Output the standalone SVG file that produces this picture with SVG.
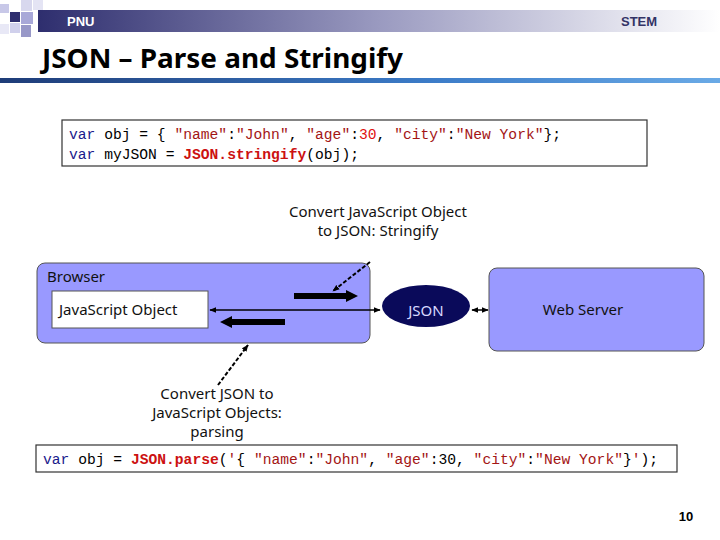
<svg xmlns="http://www.w3.org/2000/svg" width="720" height="540" viewBox="0 0 720 540">
<defs>
<linearGradient id="hdr" x1="0" y1="0" x2="1" y2="0">
<stop offset="0" stop-color="#2e2e6e"/>
<stop offset="0.5" stop-color="#9a9ac0"/>
<stop offset="1" stop-color="#ffffff"/>
</linearGradient>
<linearGradient id="rule" x1="0" y1="0" x2="1" y2="0">
<stop offset="0" stop-color="#1e3c78"/>
<stop offset="0.6" stop-color="#3c7cc8"/>
<stop offset="1" stop-color="#6aaae6"/>
</linearGradient>
<marker id="ah" viewBox="0 0 10 10" refX="9" refY="5" markerWidth="7" markerHeight="7" orient="auto-start-reverse" markerUnits="userSpaceOnUse">
<path d="M0,1 L10,5 L0,9 z" fill="#000"/>
</marker>
<marker id="thick" viewBox="0 0 10 10" refX="5" refY="5" markerWidth="12" markerHeight="12" orient="auto" markerUnits="userSpaceOnUse">
<path d="M0,0 L10,5 L0,10 z" fill="#000"/>
</marker>
</defs>
<style>
.lbl{font-family:"Noto Sans","DejaVu Sans",sans-serif;font-size:15px;fill:#111}
.code{font-family:"Liberation Mono","DejaVu Sans Mono",monospace;font-size:14.65px;fill:#000}
.kw{fill:#1a1a8c}
.str{fill:#a31515}
.fn{fill:#cc1111;font-weight:bold}
.num{fill:#e01010}
.box{fill:#9999ff;stroke:#555;stroke-width:1}
.codebox{fill:#fff;stroke:#333;stroke-width:1.2}
.lead{stroke:#000;stroke-width:2;stroke-dasharray:4,2;fill:none}
.thin{stroke:#000;stroke-width:1.5;fill:none}
.fat{stroke:#000;stroke-width:6;fill:none}
</style>
<rect width="720" height="540" fill="#fff"/>
<g id="header">
<rect x="38" y="10" width="682" height="22" fill="url(#hdr)"/>
<rect x="0" y="4" width="9" height="9" fill="#c8c8e8"/>
<rect x="10" y="12" width="10" height="10" fill="#2e2e6e"/>
<rect x="21" y="0" width="11" height="11" fill="#d8d8ee"/>
<rect x="21" y="12" width="12" height="12" fill="#a8a8d8"/>
<rect x="33" y="0" width="10" height="10" fill="#e4e4f4"/>
<rect x="10" y="23" width="10" height="10" fill="#d0d0ec"/>
<rect x="21" y="25" width="10" height="12" fill="#9898c8"/>
<rect x="0" y="24" width="9" height="10" fill="#e8e8f6"/>
<text x="67" y="26" font-family="Liberation Sans,Arial,sans-serif" font-size="13" font-weight="bold" fill="#fff">PNU</text>
<text x="621" y="26" font-family="Liberation Sans,Arial,sans-serif" font-size="13" font-weight="bold" fill="#333366">STEM</text>
</g>
<g id="title">
<text x="42" y="68" font-family="Noto Sans,Liberation Sans,Arial,sans-serif" font-size="27" font-weight="bold" fill="#000" textLength="361" lengthAdjust="spacingAndGlyphs">JSON – Parse and Stringify</text>
<rect x="0" y="78" width="720" height="5" fill="url(#rule)"/>
</g>
<g id="code-stringify">
<rect class="codebox" x="62" y="120" width="585" height="46"/>
<text class="code" x="69" y="139" xml:space="preserve"><tspan class="kw">var</tspan> obj = { <tspan class="str">"name"</tspan>:<tspan class="str">"John"</tspan>, <tspan class="str">"age"</tspan>:<tspan class="num">30</tspan>, <tspan class="str">"city"</tspan>:<tspan class="str">"New York"</tspan>};</text>
<text class="code" x="69" y="159" xml:space="preserve"><tspan class="kw">var</tspan> myJSON = <tspan class="fn">JSON.stringify</tspan>(obj);</text>
</g>
<g id="label-stringify">
<text class="lbl" x="378" y="217" text-anchor="middle">Convert JavaScript Object</text>
<text class="lbl" x="378" y="236" text-anchor="middle">to JSON: Stringify</text>
</g>
<g id="browser">
<rect class="box" x="37" y="263" width="333" height="80" rx="8"/>
<text class="lbl" x="47" y="282">Browser</text>
</g>
<g id="js-object">
<rect x="52" y="291" width="156" height="37" fill="#fff" stroke="#555" stroke-width="1"/>
<text class="lbl" x="59" y="315">JavaScript Object</text>
</g>
<g id="json">
<ellipse cx="426" cy="306" rx="44" ry="21" fill="#0a0a5a"/>
<text class="lbl" x="426" y="316" text-anchor="middle" style="fill:#d8d8ff">JSON</text>
</g>
<g id="web-server">
<rect class="box" x="489" y="268" width="215" height="83" rx="8"/>
<text class="lbl" x="583" y="315" text-anchor="middle">Web Server</text>
</g>
<g id="connectors">
<line class="thin" x1="210" y1="310" x2="380" y2="310" marker-start="url(#ah)" marker-end="url(#ah)"/>
<line class="thin" x1="472" y1="310" x2="488" y2="310" marker-start="url(#ah)" marker-end="url(#ah)"/>
<line class="fat" x1="294" y1="296" x2="352" y2="296" marker-end="url(#thick)"/>
<line class="fat" x1="285" y1="322" x2="226" y2="322" marker-end="url(#thick)"/>
<line class="lead" x1="370" y1="262" x2="333" y2="291" marker-end="url(#ah)"/>
<line class="lead" x1="218" y1="385" x2="248" y2="345" marker-end="url(#ah)"/>
</g>
<g id="label-parse">
<text class="lbl" x="217" y="399" text-anchor="middle">Convert JSON to</text>
<text class="lbl" x="217" y="418" text-anchor="middle">JavaScript Objects:</text>
<text class="lbl" x="217" y="437" text-anchor="middle">parsing</text>
</g>
<g id="code-parse">
<rect class="codebox" x="36" y="445" width="641" height="27"/>
<text class="code" x="43" y="464" xml:space="preserve"><tspan class="kw">var</tspan> obj = <tspan class="fn">JSON.parse</tspan>(<tspan class="str">'</tspan>{ <tspan class="str">"name"</tspan>:<tspan class="str">"John"</tspan>, <tspan class="str">"age"</tspan>:30, <tspan class="str">"city"</tspan>:<tspan class="str">"New York"</tspan>}<tspan class="str">'</tspan>);</text>
</g>
<text x="686" y="521" font-family="Liberation Sans,Arial,sans-serif" font-size="13" font-weight="bold" fill="#000" text-anchor="middle">10</text>
</svg>
